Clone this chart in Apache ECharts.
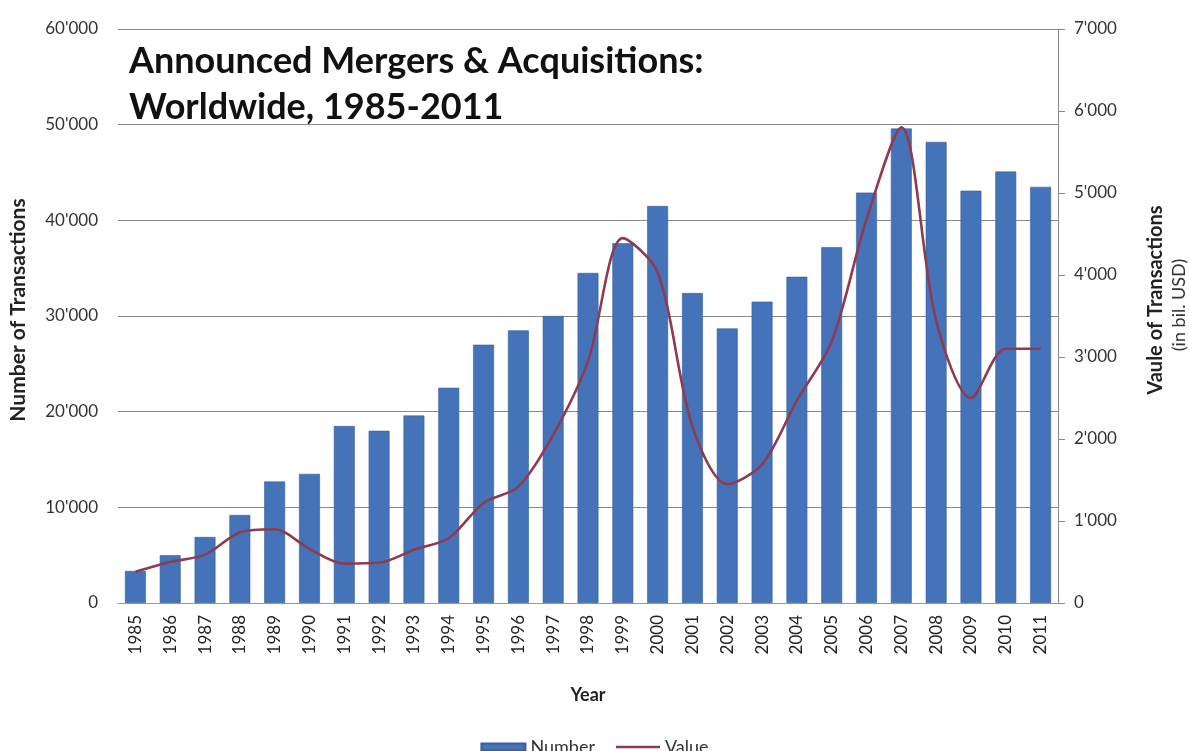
<!DOCTYPE html>
<html>
<head>
<meta charset="utf-8">
<script src="https://cdn.jsdelivr.net/npm/echarts@6/dist/echarts.min.js"></script>
<style>
  html, body { margin: 0; padding: 0; background: #fff; }
  #chart { width: 1189px; height: 751px; }
</style>
</head>
<body>
<div id="chart"></div>
<script>
const years = ['1985', '1986', '1987', '1988', '1989', '1990', '1991', '1992', '1993', '1994',
  '1995', '1996', '1997', '1998', '1999', '2000', '2001', '2002', '2003', '2004',
  '2005', '2006', '2007', '2008', '2009', '2010', '2011']

// number of transactions (left axis)
const numberDeals = [3350, 5000, 6900, 9200, 12700, 13500, 18500, 18000, 19600, 22500,
  27000, 28500, 30000, 34500, 37600, 41500, 32400, 28700, 31500, 34100,
  37200, 42900, 49600, 48200, 43100, 45100, 43500]

// value of transactions in bil. USD (right axis)
const valueDeals = [380, 500, 590, 860, 900, 660, 480, 490, 650, 790,
  1220, 1420, 2050, 2950, 4450, 4030, 2150, 1450, 1690, 2470,
  3190, 4680, 5800, 3440, 2500, 3100, 3100]

const fmt = v => v >= 1000 ? Math.floor(v / 1000) + "'" + String(v % 1000).padStart(3, '0') : String(v)

const font = 'Lato, "Open Sans", sans-serif'
const chart = echarts.init(document.getElementById('chart'))

chart.setOption({
  backgroundColor: '#fff',
  animation: false,
  title: {
    text: 'Announced Mergers & Acquisitions:\nWorldwide, 1985-2011',
    left: 124, top: 33,
    textStyle: { fontFamily: font, fontSize: 36, fontWeight: 'bold', color: '#111', lineHeight: 46 }
  },
  grid: { left: 118, right: 131, top: 29, bottom: 148 },
  legend: {
    top: 733, left: 'center',
    itemWidth: 44, itemHeight: 7, itemGap: 21,
    textStyle: { fontFamily: font, fontSize: 18, color: '#333' },
    data: [
      { name: 'Number', icon: 'rect' },
      { name: 'Value', icon: 'path://M0,0 L44,0 L44,2.6 L0,2.6 Z' }
    ]
  },
  xAxis: {
    type: 'category',
    data: years,
    name: 'Year', nameLocation: 'middle', nameGap: 83,
    nameTextStyle: { fontFamily: font, fontSize: 18, fontWeight: 'bold', color: '#222' },
    axisLine: { lineStyle: { color: '#999' } },
    axisTick: { show: false },
    axisLabel: { rotate: 90, fontFamily: font, fontSize: 17, color: '#222', margin: 12 }
  },
  yAxis: [{
    type: 'value', min: 0, max: 60000, interval: 10000,
    axisLine: { show: false }, axisTick: { show: false },
    axisLabel: { formatter: fmt, fontFamily: font, fontSize: 17, color: '#333', margin: 20 },
    splitLine: { lineStyle: { color: '#8a8a8a', width: 1.2 } }
  }, {
    type: 'value', min: 0, max: 7000, interval: 1000, position: 'right',
    axisLine: { show: true, lineStyle: { color: '#888' } },
    axisTick: { show: true, length: 7, lineStyle: { color: '#888' } },
    axisLabel: { formatter: fmt, fontFamily: font, fontSize: 17, color: '#333', margin: 16 },
    splitLine: { show: false }
  }],
  graphic: [{
    type: 'text', x: 18, y: 310, rotation: Math.PI / 2,
    style: { text: 'Number of Transactions', font: 'bold 21px ' + font, fill: '#222', align: 'center', verticalAlign: 'middle' }
  }, {
    type: 'text', x: 1156, y: 300, rotation: Math.PI / 2,
    style: { text: 'Vaule of Transactions', font: 'bold 20px ' + font, fill: '#222', align: 'center', verticalAlign: 'middle' }
  }, {
    type: 'text', x: 1179, y: 305, rotation: Math.PI / 2,
    style: { text: '(in bil. USD)', font: '18px ' + font, fill: '#333', align: 'center', verticalAlign: 'middle' }
  }],
  series: [{
    name: 'Number', type: 'bar', yAxisIndex: 0,
    barWidth: '60%',
    itemStyle: { color: '#4473b9', borderColor: '#365f9e', borderWidth: 0.6 },
    data: numberDeals
  }, {
    name: 'Value', type: 'line', yAxisIndex: 1,
    smooth: 0.3, showSymbol: false, symbol: 'none',
    lineStyle: { color: '#8c3b50', width: 2.6 },
    itemStyle: { color: '#8c3b50' },
    data: valueDeals
  }]
})
</script>
</body>
</html>
